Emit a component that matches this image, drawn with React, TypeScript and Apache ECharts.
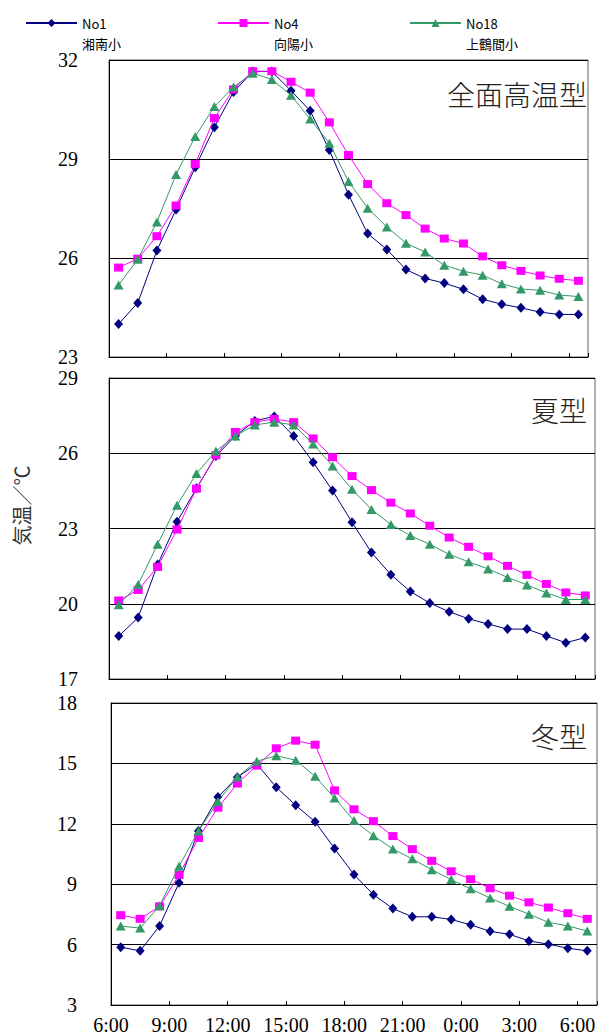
import React, { useEffect, useRef } from "react";
import * as echarts from "echarts";

const hours = [
  "6:00", "7:00", "8:00", "9:00", "10:00", "11:00", "12:00", "13:00", "14:00",
  "15:00", "16:00", "17:00", "18:00", "19:00", "20:00", "21:00", "22:00", "23:00",
  "0:00", "1:00", "2:00", "3:00", "4:00", "5:00", "6:00",
];

const seriesNames = ["No1", "No4", "No18"];
const schoolNames = ["湘南小", "向陽小", "上鶴間小"];
const panelTitles = ["全面高温型", "夏型", "冬型"];
const yAxisName = "気温／℃";

const yMins = [23, 17, 3];
const yMaxs = [32, 29, 18];
const yStep = 3;

// 全面高温型
const hot_No1 = [24.0, 24.64, 26.23, 27.47, 28.75, 29.96, 31.03, 31.65, 31.65, 31.07, 30.46, 29.27, 27.92, 26.74, 26.26, 25.65, 25.38, 25.24, 25.05, 24.75, 24.6, 24.49, 24.36, 24.29, 24.29];
const hot_No4 = [25.71, 25.98, 26.66, 27.59, 28.85, 30.24, 31.11, 31.66, 31.66, 31.34, 31.01, 30.11, 29.12, 28.24, 27.66, 27.3, 26.89, 26.59, 26.44, 26.05, 25.78, 25.61, 25.47, 25.37, 25.31];
const hot_No18 = [25.18, 25.96, 27.09, 28.53, 29.68, 30.59, 31.18, 31.6, 31.41, 30.93, 30.21, 29.48, 28.32, 27.51, 26.94, 26.45, 26.18, 25.78, 25.6, 25.48, 25.22, 25.06, 25.02, 24.88, 24.83];

// 夏型
const summer_No1 = [18.71, 19.45, 21.56, 23.27, 24.6, 25.89, 26.69, 27.29, 27.47, 26.69, 25.64, 24.51, 23.25, 22.04, 21.16, 20.49, 20.03, 19.68, 19.4, 19.19, 18.99, 18.99, 18.71, 18.45, 18.65];
const summer_No4 = [20.13, 20.55, 21.47, 22.96, 24.59, 25.92, 26.85, 27.24, 27.37, 27.24, 26.59, 25.84, 25.09, 24.53, 24.03, 23.6, 23.11, 22.64, 22.27, 21.89, 21.51, 21.15, 20.79, 20.45, 20.33];
const summer_No18 = [19.96, 20.77, 22.37, 23.93, 25.19, 26.09, 26.69, 27.13, 27.24, 27.13, 26.37, 25.49, 24.56, 23.76, 23.16, 22.72, 22.37, 21.97, 21.67, 21.39, 21.05, 20.75, 20.43, 20.17, 20.17];

// 冬型
const winter_No1 = [5.87, 5.69, 6.93, 9.07, 11.64, 13.33, 14.31, 14.97, 13.82, 12.92, 12.1, 10.77, 9.48, 8.48, 7.79, 7.38, 7.38, 7.25, 6.98, 6.66, 6.51, 6.18, 6.02, 5.82, 5.69];
const winter_No4 = [7.46, 7.28, 7.9, 9.46, 11.3, 12.8, 14.0, 14.89, 15.75, 16.13, 15.93, 13.66, 12.72, 12.13, 11.39, 10.74, 10.16, 9.64, 9.25, 8.8, 8.43, 8.1, 7.84, 7.56, 7.28];
const winter_No18 = [6.92, 6.82, 7.93, 9.89, 11.64, 13.11, 14.33, 15.11, 15.38, 15.16, 14.36, 13.28, 12.16, 11.41, 10.75, 10.26, 9.72, 9.23, 8.77, 8.31, 7.9, 7.51, 7.11, 6.93, 6.67];

const panelData = [
  [hot_No1, hot_No4, hot_No18],
  [summer_No1, summer_No4, summer_No18],
  [winter_No1, winter_No4, winter_No18],
];

// styles / layout
const colors = ["#000080", "#FF00FF", "#339966"];
const symbols = ["diamond", "rect", "triangle"];
const symbolSizes: any[] = [[9, 10], [9, 8], [10, 9]];
const grids = [
  { left: 109, top: 60, width: 479, height: 297 },
  { left: 109, top: 378, width: 486, height: 301 },
  { left: 111, top: 703, width: 486, height: 302 },
];
const titleTops = [80, 396, 722];
const legendLefts = [25, 217, 409];

const serif = "'Liberation Serif', 'Times New Roman', serif";
const cjk = "'Noto Sans CJK JP', 'Noto Sans', sans-serif";

export default function App() {
  const ref = useRef<HTMLDivElement>(null);

  useEffect(() => {
    if (!ref.current) return;
    const chart = echarts.init(ref.current, undefined, { renderer: "svg" });

    const xAxis: any[] = grids.map((g, i) => ({
      type: "category",
      gridIndex: i,
      data: hours,
      boundaryGap: true,
      axisLine: { show: true, lineStyle: { color: "#000", width: 1 } },
      axisTick: { show: true, inside: true, length: 4, interval: 2, lineStyle: { color: "#000" } },
      axisLabel: {
        show: i === 2,
        interval: 2,
        margin: 10,
        padding: [0, 19.4, 0, 0],
        fontFamily: serif,
        fontSize: 20,
        color: "#000",
      },
      splitLine: { show: false },
    }));

    const yAxis: any[] = grids.map((g, i) => ({
      type: "value",
      gridIndex: i,
      min: yMins[i],
      max: yMaxs[i],
      interval: yStep,
      axisLine: { show: true, lineStyle: { color: "#000", width: 1 } },
      axisTick: { show: false },
      axisLabel: {
        margin: i === 2 ? 34 : 31,
        fontFamily: serif,
        fontSize: 20,
        color: "#000",
      },
      splitLine: { show: true, lineStyle: { color: "#000", width: 1 } },
      ...(i === 1
        ? {
            name: yAxisName,
            nameLocation: "middle",
            nameGap: 78,
            nameRotate: 90,
            nameTextStyle: {
              fontFamily: cjk,
              fontSize: 20,
              color: "#333",
              padding: [0, 0, 0, 46],
            },
          }
        : {}),
    }));

    const series: any[] = [];
    panelData.forEach((sets, p) => {
      sets.forEach((vals, s) => {
        series.push({
          type: "line",
          name: seriesNames[s],
          xAxisIndex: p,
          yAxisIndex: p,
          data: vals,
          symbol: symbols[s],
          symbolSize: symbolSizes[s],
          showSymbol: true,
          lineStyle: { color: colors[s], width: 1 },
          itemStyle: { color: colors[s] },
          z: 2 + s,
        });
      });
    });

    const legend: any[] = seriesNames.map((n, i) => ({
      data: [n],
      left: legendLefts[i],
      top: -7,
      padding: 0,
      itemWidth: 51,
      itemHeight: 10,
      itemGap: 0,
      selectedMode: false,
      formatter: (name: string) => ` \n${name}\n${schoolNames[seriesNames.indexOf(name)]}`,
      textStyle: {
        fontFamily: cjk,
        fontSize: 13,
        lineHeight: 20,
        color: "#000",
      },
    }));

    const title: any[] = panelTitles.map((t, i) => ({
      text: t,
      right: 29,
      top: titleTops[i],
      padding: 0,
      textStyle: {
        fontFamily: cjk,
        fontSize: 28,
        lineHeight: 28,
        fontWeight: 300,
        color: "#222",
      },
    }));

    chart.setOption({
      animation: false,
      backgroundColor: "#fff",
      title,
      legend,
      grid: grids.map((g) => ({ ...g, show: true, borderColor: "#606060", borderWidth: 1, backgroundColor: "transparent" })),
      xAxis,
      yAxis,
      series,
    });

    return () => chart.dispose();
  }, []);

  return (
    <div
      ref={ref}
      style={{ position: "fixed", left: 0, top: 0, width: 616, height: 1036, background: "#fff" }}
    />
  );
}
